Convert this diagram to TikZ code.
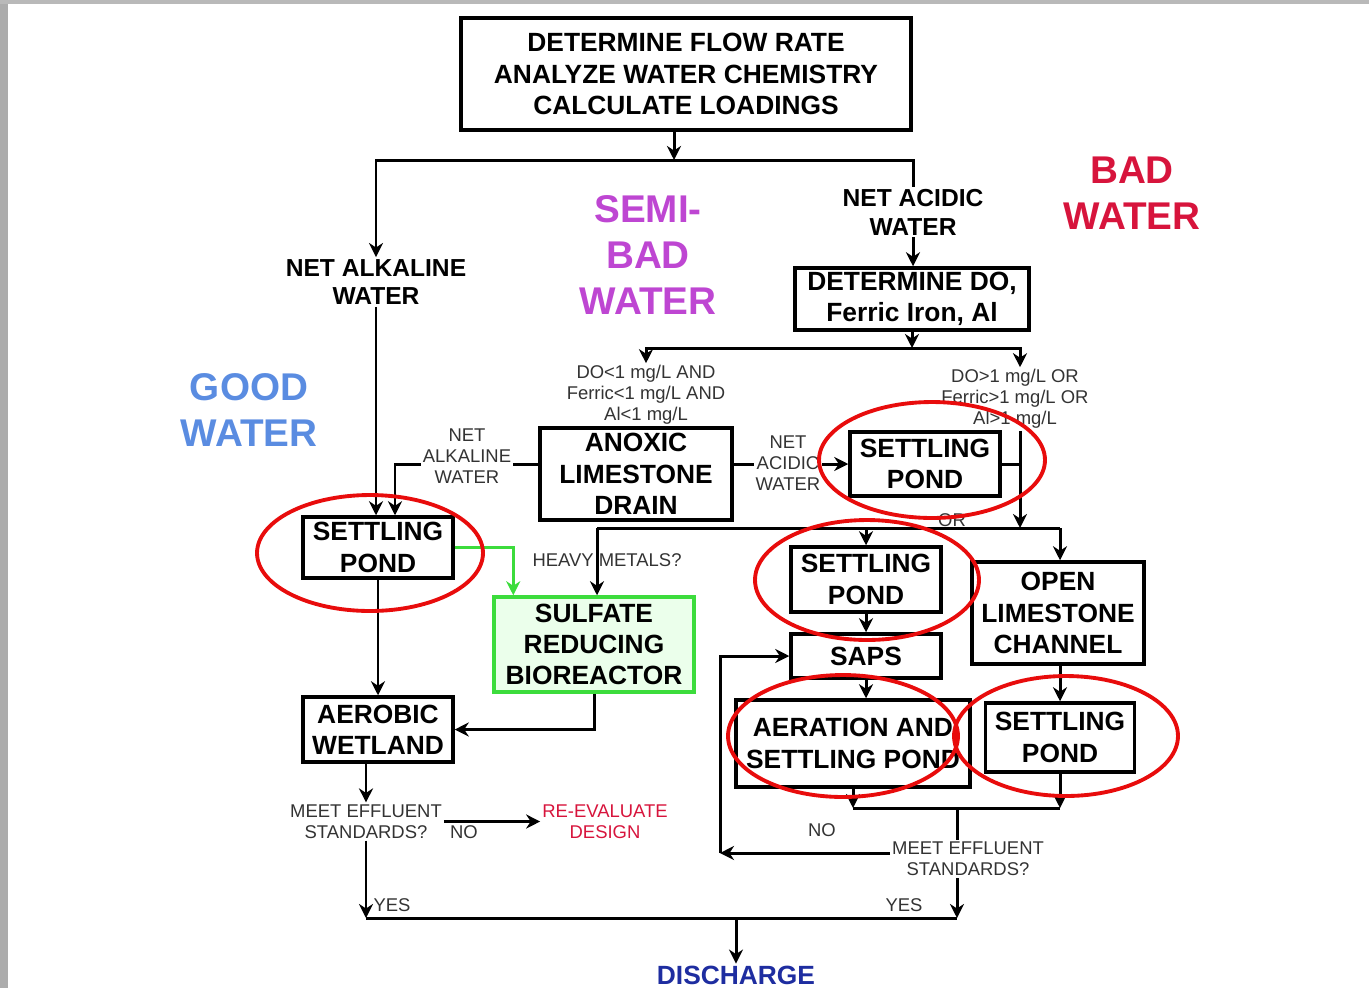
\documentclass[tikz,border=0pt]{standalone}
\usepackage{fontspec}
\setmainfont{Liberation Sans}
\usetikzlibrary{arrows.meta}
\definecolor{goodblue}{RGB}{90,140,225}
\definecolor{semipurple}{RGB}{190,70,210}
\definecolor{badred}{RGB}{215,20,60}
\definecolor{disblue}{RGB}{30,45,160}
\definecolor{srbgreen}{RGB}{60,220,60}
\definecolor{ringred}{RGB}{232,12,12}
\tikzset{
  box/.style={draw, line width=2pt, align=center, inner sep=0pt, font=\fontsize{15}{17.8}\selectfont\bfseries},
  lbl/.style={align=center, inner sep=1pt, font=\fontsize{14}{16.4}\selectfont\bfseries},
  note/.style={align=center, inner sep=1pt, text=black!80, font=\fontsize{10.5}{12}\selectfont},
  water/.style={align=center, inner sep=0pt, font=\fontsize{22}{26.3}\selectfont\bfseries},
  line/.style={line width=1.7pt},
  arr/.style={line width=1.7pt, -{Stealth[length=8pt,width=8pt]}},
  ring/.style={draw=ringred, line width=2.2pt},
}
\begin{document}
\begin{tikzpicture}[x=0.02cm,y=-0.02cm]
\useasboundingbox (0,0) rectangle (1369,988);
\fill[gray!65] (0,0) rectangle (8,988);
\fill[gray!55] (0,0) rectangle (1369,4);
% Headings for the three kinds of water
\node[water, text=goodblue] (good) at (249,410) {GOOD\\WATER};
\node[water, text=semipurple] (semi) at (648,255) {SEMI-\\BAD\\WATER};
\node[water, text=badred] (bad) at (1132,193) {BAD\\WATER};
% Draw the boxes
\node[box, minimum width=9cm, minimum height=2.24cm] (top) at (686,74) {DETERMINE FLOW RATE\\ANALYZE WATER CHEMISTRY\\CALCULATE LOADINGS};
\node[box, minimum width=4.68cm, minimum height=1.24cm] (dodo) at (912,299) {DETERMINE DO,\\Ferric Iron, Al};
\node[box, minimum width=3.84cm, minimum height=1.84cm] (ald) at (636,474) {ANOXIC\\LIMESTONE\\DRAIN};
\node[box, minimum width=3cm, minimum height=1.22cm] (sp1) at (378,547.5) {SETTLING\\POND};
\node[box, minimum width=3cm, minimum height=1.3cm] (aw) at (378,729.5) {AEROBIC\\WETLAND};
\node[box, draw=srbgreen, fill=green!8, minimum width=4cm, minimum height=1.9cm] (srb) at (594,644.5) {SULFATE\\REDUCING\\BIOREACTOR};
\node[box, minimum width=3cm, minimum height=1.28cm] (spt) at (925,464) {SETTLING\\POND};
\node[box, minimum width=3cm, minimum height=1.3cm] (sp2) at (866,579.5) {SETTLING\\POND};
\node[box, minimum width=3cm, minimum height=0.88cm] (saps) at (866,656) {SAPS};
\node[box, minimum width=4.68cm, minimum height=1.74cm] (asp) at (853,743.5) {AERATION AND\\SETTLING POND};
\node[box, minimum width=3.44cm, minimum height=2.04cm] (olc) at (1058,613) {OPEN\\LIMESTONE\\CHANNEL};
\node[box, minimum width=2.98cm, minimum height=1.38cm] (sp3) at (1060,737.5) {SETTLING\\POND};
% Draw the text labels
\node[lbl] (nal) at (376,282) {NET ALKALINE\\WATER};
\node[lbl] (nac) at (913,212) {NET ACIDIC\\WATER};
\node[note] (dolow) at (646,395) {DO<1 mg/L AND\\Ferric<1 mg/L AND\\Al<1 mg/L};
\node[note] (dohigh) at (1015,399) {DO>1 mg/L OR\\Ferric>1 mg/L OR\\Al>1 mg/L};
\node[note] (or) at (952,520) {OR};
\node[note] (heavy) at (607,560) {HEAVY METALS?};
\node[note] (mes1) at (366,821.5) {MEET EFFLUENT\\STANDARDS?};
\node[note] (no1) at (464,832) {NO};
\node[note, text=badred] (reeval) at (605,821.5) {RE-EVALUATE\\DESIGN};
\node[note] (mes2) at (968,859) {MEET EFFLUENT\\STANDARDS?};
\node[note] (no2) at (822,830) {NO};
\node[note] (yes1) at (392,905) {YES};
\node[note] (yes2) at (904,905) {YES};
\node[font=\fontsize{15}{18}\selectfont\bfseries, text=disblue, inner sep=1pt] (dis) at (736,975) {DISCHARGE};
% Junction points
\coordinate (split) at (674,160);
\coordinate (dosplit) at (912,348);
\coordinate (orbus) at (1020,528);
\coordinate (busL) at (597,528);
\coordinate (busR) at (1060,528);
\coordinate (mbus) at (957,808);
\coordinate (noc) at (720,853);
\coordinate (disbus) at (736,918);
% Draw the connectors
\draw[arr] (split |- top.south) -- (split);
\draw[arr] (split) -| (nal.north);
\draw[line] (split) -| (nac.north);
\draw[arr] (nac.south) -- (nac.south |- dodo.north);
\draw[arr] (dodo.south) -- (dosplit);
\draw[arr] (dosplit) -| (dolow.north);
\draw[arr] (dosplit) -| (orbus |- dohigh.north);
\draw[arr] (nal.south) -- (nal.south |- sp1.north);
\draw[arr] (ald.west |- spt.west) -| ([xshift=0.34cm]sp1.north);
\node[note, fill=white] (nalw) at (467,456) {NET\\ALKALINE\\WATER};
\draw[arr] (ald.east |- spt.west) -- (spt.west);
\node[note, fill=white] (nacw) at (788,463) {NET\\ACIDIC\\WATER};
\draw[arr] (orbus |- dohigh.south) -- (orbus);
\draw[line] (spt.east) -- (spt.east -| orbus);
\draw[line] (busL) -- (busR);
\draw[arr] (busL) -- (busL |- srb.north);
\draw[arr] (sp2.north |- busL) -- (sp2.north);
\draw[arr] (busR) -- (busR |- olc.north);
\draw[arr, draw=srbgreen] (sp1.east) -| ([xshift=0.42cm]srb.north west);
\draw[arr] (sp1.south) -- (aw.north);
\draw[arr] (srb.south) |- (aw.east);
\draw[arr] (mes1.north |- aw.south) -- (mes1.north);
\draw[arr] (mes1.east) -- (reeval.west);
\draw[arr] (mes1.south) -- (mes1.south |- disbus);
\draw[arr] (sp2.south) -- (saps.north);
\draw[arr] (saps.south) -- (saps.south |- asp.north);
\draw[arr] (olc.south -| sp3.north) -- (sp3.north);
\draw[arr] (asp.south) -- (asp.south |- mbus);
\draw[arr] (sp3.south) -- (sp3.south |- mbus);
\draw[line] (asp.south |- mbus) -- (sp3.south |- mbus);
\draw[line] (mbus) -- (mbus |- mes2.north);
\draw[arr] (noc -| mes2.west) -- (noc);
\draw[arr] (noc) |- (saps.west);
\draw[arr] (mbus |- mes2.south) -- (mbus |- disbus);
\draw[line] (mes1.south |- disbus) -- (mbus |- disbus);
\draw[arr] (disbus) -- (dis.north);
% Red rings round the ponds
\draw[ring] (370,553) ellipse [x radius=2.26cm, y radius=1.16cm];
\draw[ring] (932,460) ellipse [x radius=2.26cm, y radius=1.16cm];
\draw[ring] (867,580) ellipse [x radius=2.24cm, y radius=1.2cm];
\draw[ring] (843,736) ellipse [x radius=2.3cm, y radius=1.22cm];
\draw[ring] (1066,736) ellipse [x radius=2.24cm, y radius=1.2cm];
\end{tikzpicture}
\end{document}
